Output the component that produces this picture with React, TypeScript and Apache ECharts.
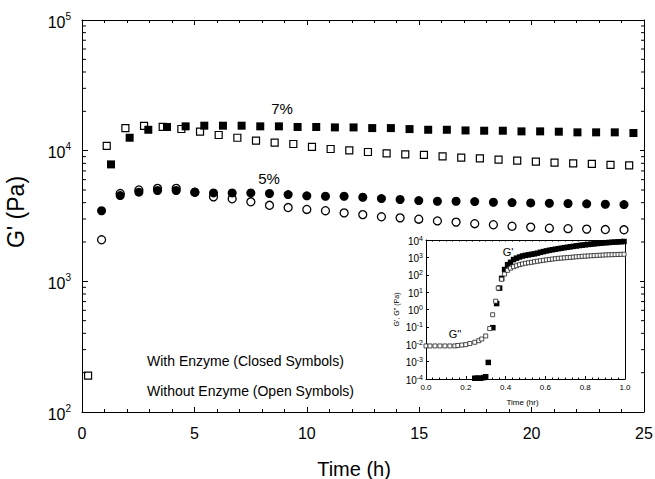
import React, { useEffect, useRef } from 'react';
import * as echarts from 'echarts';

const FONT = 'Liberation Sans, Arial, Helvetica, sans-serif';

// ---- main chart data (time in h, G' in Pa) ----
const openSquareT = [0.27, 1.10, 1.93, 2.76, 3.59, 4.42, 5.25, 6.08, 6.91, 7.74, 8.57, 9.40, 10.23, 11.06, 11.89, 12.72, 13.55, 14.38, 15.21, 16.04, 16.87, 17.70, 18.53, 19.36, 20.19, 21.02, 21.85, 22.68, 23.51, 24.34];
const openSquareG = [190, 10900, 14900, 15500, 15200, 14650, 13970, 13180, 12560, 11920, 11510, 11250, 10700, 10300, 10060, 9770, 9540, 9370, 9270, 9050, 8840, 8740, 8540, 8390, 8240, 8100, 8000, 7910, 7780, 7730];

const closedSquareT = [1.29, 2.12, 2.95, 3.78, 4.61, 5.44, 6.27, 7.10, 7.93, 8.76, 9.59, 10.42, 11.25, 12.08, 12.91, 13.74, 14.57, 15.40, 16.23, 17.06, 17.89, 18.72, 19.55, 20.38, 21.21, 22.04, 22.87, 23.70, 24.53];
const closedSquareG = [7850, 12560, 14450, 15170, 15350, 15530, 15530, 15530, 15350, 15350, 15170, 15170, 15070, 15070, 14890, 14890, 14630, 14450, 14450, 14280, 14210, 14210, 14050, 14050, 13970, 13810, 13810, 13810, 13650];

const circleT = [0.87, 1.70, 2.53, 3.36, 4.19, 5.02, 5.85, 6.68, 7.51, 8.34, 9.17, 10.00, 10.83, 11.66, 12.49, 13.32, 14.15, 14.98, 15.81, 16.64, 17.47, 18.30, 19.13, 19.96, 20.79, 21.62, 22.45, 23.28, 24.11];
const closedCircleG = [3470, 4530, 4810, 4955, 4955, 4810, 4750, 4750, 4750, 4700, 4610, 4510, 4480, 4480, 4400, 4300, 4230, 4150, 4100, 4100, 4080, 4030, 4010, 3980, 3960, 3940, 3920, 3890, 3870];
const openCircleG = [2080, 4700, 5000, 5150, 5150, 4800, 4430, 4280, 4060, 3820, 3670, 3550, 3470, 3340, 3240, 3120, 3060, 2990, 2900, 2840, 2760, 2710, 2640, 2600, 2550, 2530, 2510, 2490, 2480];

// ---- inset data (time in hr) ----
const insetGpT = [0.245, 0.255, 0.265, 0.275, 0.29, 0.30, 0.313, 0.336, 0.355, 0.37, 0.38, 0.395, 0.41, 0.425, 0.44, 0.455, 0.47, 0.485, 0.5, 0.515, 0.53, 0.545, 0.56, 0.575, 0.59, 0.605, 0.62, 0.635, 0.65, 0.665, 0.68, 0.695, 0.71, 0.725, 0.74, 0.755, 0.77, 0.785, 0.8, 0.815, 0.83, 0.845, 0.86, 0.875, 0.89, 0.905, 0.92, 0.935, 0.95, 0.965, 0.98, 0.995];
const insetGpV = [1.1e-4, 1.1e-4, 1.1e-4, 1.1e-4, 1.2e-4, 1.35e-4, 9e-4, 0.09, 2.2, 17, 62, 200, 380, 520, 750, 900, 1050, 1200, 1300, 1400, 1500, 1600, 1750, 1950, 2150, 2350, 2550, 2750, 2950, 3150, 3350, 3600, 3800, 4050, 4300, 4550, 4800, 5050, 5300, 5550, 5800, 6050, 6300, 6550, 6800, 7000, 7200, 7400, 7600, 7800, 8000, 8200];

const insetGppT = [0.0, 0.02, 0.045, 0.07, 0.095, 0.12, 0.145, 0.16, 0.18, 0.2, 0.22, 0.245, 0.265, 0.28, 0.3, 0.32, 0.335, 0.35, 0.363, 0.38, 0.395, 0.41, 0.425, 0.44, 0.455, 0.47, 0.485, 0.5, 0.515, 0.53, 0.545, 0.56, 0.575, 0.59, 0.605, 0.62, 0.635, 0.65, 0.665, 0.68, 0.695, 0.71, 0.725, 0.74, 0.755, 0.77, 0.785, 0.8, 0.815, 0.83, 0.845, 0.86, 0.875, 0.89, 0.905, 0.92, 0.935, 0.95, 0.965, 0.98, 0.995];
const insetGppV = [0.008, 0.008, 0.008, 0.008, 0.008, 0.008, 0.008, 0.0085, 0.009, 0.0095, 0.011, 0.013, 0.016, 0.02, 0.03, 0.08, 0.5, 3, 17, 55, 110, 180, 240, 290, 330, 380, 420, 460, 490, 520, 560, 600, 640, 680, 720, 760, 800, 840, 880, 910, 940, 970, 1000, 1040, 1080, 1110, 1150, 1180, 1210, 1240, 1270, 1300, 1330, 1360, 1390, 1410, 1430, 1450, 1470, 1490, 1510];

const annotations = {
  sevenPct: '7%',
  fivePct: '5%',
  closed: 'With Enzyme (Closed Symbols)',
  open: 'Without Enzyme (Open Symbols)',
  gPrime: "G'",
  gDouble: "G''",
};

const zip = (xs: number[], ys: number[]) => xs.map((x, i) => [x, ys[i]]);

const expFormatter = (v: number) => {
  const e = Math.round(Math.log10(v));
  return `{b|10}{s|${e}}`;
};

export default function App() {
  const ref = useRef<HTMLDivElement>(null);
  useEffect(() => {
    if (!ref.current) return;
    const chart = echarts.init(ref.current, undefined, { renderer: 'svg' });

    // minor log ticks (2..9 of each decade) for the main y axis
    const minorVals: number[] = [];
    for (let d = 100; d < 100000; d *= 10) for (let m = 2; m <= 9; m++) minorVals.push(d * m);

    const black = '#000';
    const mainRich = {
      b: { fontSize: 16, fontFamily: FONT, color: black, padding: [4, 0, 0, 0] },
      s: { fontSize: 10, fontFamily: FONT, color: black, padding: [0, 0, 8, 0] },
    };
    const insetRich = {
      b: { fontSize: 10, fontFamily: FONT, color: black, padding: [2, 0, 0, 0] },
      s: { fontSize: 7, fontFamily: FONT, color: black, padding: [0, 0, 4, 0] },
    };

    const option: any = {
      animation: false,
      backgroundColor: '#fff',
      grid: [
        { left: 82, top: 20, width: 562, height: 392, containLabel: false, outerBoundsMode: 'none' },
        { left: 426, top: 240, width: 199, height: 139, show: true, backgroundColor: '#fff', borderWidth: 0, z: 3, containLabel: false, outerBoundsMode: 'none' },
      ],
      xAxis: [
        {
          type: 'value', gridIndex: 0, position: 'bottom', min: 0, max: 25, interval: 5,
          axisLine: { show: true, onZero: false, lineStyle: { color: black, width: 1 } },
          axisTick: { show: true, inside: true, length: 5, lineStyle: { color: black } },
          minorTick: { show: true, splitNumber: 5, length: 3, lineStyle: { color: black } },
          splitLine: { show: false },
          axisLabel: { fontSize: 16, fontFamily: FONT, color: black, margin: 13 },
          name: 'Time (h)', nameLocation: 'middle', nameGap: 47,
          nameTextStyle: { fontSize: 20, fontFamily: FONT, color: black, padding: [0, 18, 0, 0] },
        },
        {
          type: 'value', gridIndex: 0, position: 'top', min: 0, max: 25, interval: 5,
          axisLine: { show: true, onZero: false, lineStyle: { color: black, width: 1 } },
          axisTick: { show: true, inside: true, length: 5, lineStyle: { color: black } },
          minorTick: { show: true, splitNumber: 5, length: 3, lineStyle: { color: black } },
          splitLine: { show: false },
          axisLabel: { show: false },
        },
        {
          type: 'value', gridIndex: 1, position: 'bottom', min: 0, max: 1, interval: 0.2,
          axisLine: { show: true, onZero: false, lineStyle: { color: black, width: 1 } },
          axisTick: { show: true, inside: true, length: 3, lineStyle: { color: black } },
          minorTick: { show: true, splitNumber: 6, length: 1.5, lineStyle: { color: black } },
          splitLine: { show: false },
          axisLabel: { fontSize: 8, fontFamily: FONT, color: black, margin: 4, formatter: (v: number) => v.toFixed(1) },
          name: 'Time (hr)', nameLocation: 'middle', nameGap: 19,
          nameTextStyle: { fontSize: 8, fontFamily: FONT, color: black, padding: [0, 6, 0, 0] },
          z: 4,
        },
        {
          type: 'value', gridIndex: 1, position: 'top', min: 0, max: 1, interval: 0.2,
          axisLine: { show: true, onZero: false, lineStyle: { color: black, width: 1 } },
          axisTick: { show: true, inside: true, length: 1.5, lineStyle: { color: black } },
          minorTick: { show: true, splitNumber: 6, length: 1.5, lineStyle: { color: black } },
          splitLine: { show: false },
          axisLabel: { show: false },
          z: 4,
        },
      ],
      yAxis: [
        {
          type: 'log', logBase: 10, gridIndex: 0, position: 'left', min: 100, max: 100000,
          axisLine: { show: true, onZero: false, lineStyle: { color: black, width: 1 } },
          axisTick: { show: true, inside: true, length: 6, lineStyle: { color: black } },
          splitLine: { show: false },
          axisLabel: { formatter: expFormatter, margin: 11, rich: mainRich },
          name: "G' (Pa)", nameLocation: 'middle', nameRotate: 90, nameGap: 55,
          nameTextStyle: { fontSize: 23, fontFamily: FONT, color: black, padding: [0, 0, 0, 8] },
        },
        {
          type: 'log', logBase: 10, gridIndex: 0, position: 'right', min: 100, max: 100000,
          axisLine: { show: true, onZero: false, lineStyle: { color: black, width: 1 } },
          axisTick: { show: true, inside: true, length: 4, lineStyle: { color: black } },
          splitLine: { show: false },
          axisLabel: { show: false },
        },
        {
          type: 'log', logBase: 10, gridIndex: 1, position: 'left', min: 0.0001, max: 10000,
          axisLine: { show: true, onZero: false, lineStyle: { color: black, width: 1 } },
          axisTick: { show: true, inside: true, length: 3, lineStyle: { color: black } },
          splitLine: { show: false },
          axisLabel: { formatter: expFormatter, margin: 3, rich: insetRich },
          name: "G', G'' (Pa)", nameLocation: 'middle', nameRotate: 90, nameGap: 26,
          nameTextStyle: { fontSize: 7, fontFamily: FONT, color: black },
          z: 4,
        },
        {
          type: 'log', logBase: 10, gridIndex: 1, position: 'right', min: 0.0001, max: 10000,
          axisLine: { show: true, onZero: false, lineStyle: { color: black, width: 1 } },
          axisTick: { show: false },
          splitLine: { show: false },
          axisLabel: { show: false },
          z: 4,
        },
      ],
      series: [
        {
          type: 'custom', xAxisIndex: 0, yAxisIndex: 0, silent: true, clip: false, z: 5,
          data: minorVals.map((v) => [0, v]),
          renderItem: (_p: any, api: any) => {
            const v = api.value(1);
            const l = api.coord([0, v]);
            const r = api.coord([25, v]);
            return {
              type: 'group',
              children: [
                { type: 'line', shape: { x1: l[0], y1: l[1], x2: l[0] + 4, y2: l[1] }, style: { stroke: black, lineWidth: 1 } },
                { type: 'line', shape: { x1: r[0], y1: r[1], x2: r[0] - 3, y2: r[1] }, style: { stroke: black, lineWidth: 1 } },
              ],
            };
          },
        },
        {
          name: 'open squares', type: 'scatter', xAxisIndex: 0, yAxisIndex: 0,
          data: zip(openSquareT, openSquareG), symbol: 'rect', symbolSize: 7,
          itemStyle: { color: '#fff', borderColor: black, borderWidth: 1.2, opacity: 1 },
        },
        {
          name: 'open circles', type: 'scatter', xAxisIndex: 0, yAxisIndex: 0,
          data: zip(circleT, openCircleG), symbol: 'circle', symbolSize: 8,
          itemStyle: { color: '#fff', borderColor: black, borderWidth: 1.3, opacity: 1 },
        },
        {
          name: 'closed squares', type: 'scatter', xAxisIndex: 0, yAxisIndex: 0,
          data: zip(closedSquareT, closedSquareG), symbol: 'rect', symbolSize: 8,
          itemStyle: { color: black, opacity: 1 },
        },
        {
          name: 'closed circles', type: 'scatter', xAxisIndex: 0, yAxisIndex: 0,
          data: zip(circleT, closedCircleG), symbol: 'circle', symbolSize: 9,
          itemStyle: { color: black, opacity: 1 },
        },
        {
          name: "inset G'", type: 'scatter', xAxisIndex: 2, yAxisIndex: 2, z: 5,
          data: zip(insetGpT, insetGpV), symbol: 'rect', symbolSize: 5.5,
          itemStyle: { color: black, opacity: 1 },
        },
        {
          name: "inset G''", type: 'scatter', xAxisIndex: 2, yAxisIndex: 2, z: 6,
          data: zip(insetGppT, insetGppV), symbol: 'rect', symbolSize: 4,
          itemStyle: { color: '#fff', borderColor: '#222', borderWidth: 0.8, opacity: 1 },
        },
      ],
      graphic: [
        { type: 'text', x: 282, y: 108, z: 10, style: { text: annotations.sevenPct, font: `15px ${FONT}`, fill: black, align: 'center', verticalAlign: 'middle' } },
        { type: 'text', x: 269, y: 178, z: 10, style: { text: annotations.fivePct, font: `15px ${FONT}`, fill: black, align: 'center', verticalAlign: 'middle' } },
        { type: 'text', x: 147, y: 361, z: 10, style: { text: annotations.closed, font: `14px ${FONT}`, fill: black, align: 'left', verticalAlign: 'middle' } },
        { type: 'text', x: 147, y: 391, z: 10, style: { text: annotations.open, font: `14px ${FONT}`, fill: black, align: 'left', verticalAlign: 'middle' } },
        { type: 'text', x: 508, y: 252, z: 10, style: { text: annotations.gPrime, font: `11px ${FONT}`, fill: black, align: 'center', verticalAlign: 'middle' } },
        { type: 'text', x: 455, y: 334, z: 10, style: { text: annotations.gDouble, font: `11px ${FONT}`, fill: black, align: 'center', verticalAlign: 'middle' } },
      ],
    };
    chart.setOption(option);
    return () => chart.dispose();
  }, []);
  return <div ref={ref} style={{ position: 'absolute', left: 0, top: 0, width: 655, height: 479 }} />;
}
